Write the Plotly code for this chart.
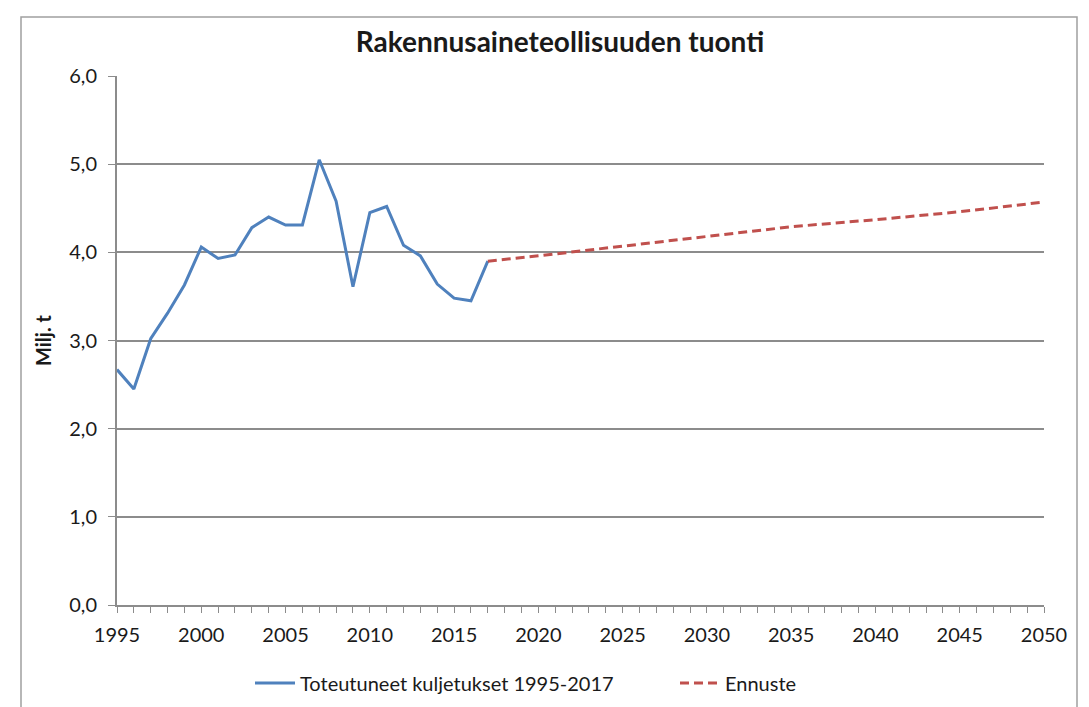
import plotly.graph_objects as go

title = "Rakennusaineteollisuuden tuonti"
y_title = "Milj. t"

actual_years = list(range(1995, 2018))
actual_values = [2.67, 2.45, 3.02, 3.31, 3.63, 4.06, 3.93, 3.97, 4.28, 4.40, 4.31,
                 4.31, 5.05, 4.58, 3.61, 4.45, 4.52, 4.08, 3.96, 3.64, 3.48, 3.45, 3.90]
actual_name = "Toteutuneet kuljetukset 1995-2017"

forecast_years = [2017, 2020, 2025, 2030, 2035, 2040, 2045, 2050]
forecast_values = [3.90, 3.96, 4.07, 4.18, 4.29, 4.37, 4.46, 4.57]
forecast_name = "Ennuste"

x_ticks = list(range(1995, 2051, 5))
y_ticks = [0, 1, 2, 3, 4, 5, 6]

FONT = "Lato, 'Open Sans', sans-serif"
GRID = "#8c8c8c"
TXT = "#1a1a1a"

fig = go.Figure()
fig.add_trace(go.Scatter(x=actual_years, y=actual_values, mode="lines", name=actual_name,
                         line=dict(color="#4F81BD", width=3), legend="legend"))
fig.add_trace(go.Scatter(x=forecast_years, y=forecast_values, mode="lines", name=forecast_name,
                         line=dict(color="#C0504D", width=3, dash="9px,5px"), legend="legend2"))

leg_common = dict(orientation="h", xanchor="left", y=-78/529, yanchor="middle",
                  font=dict(size=20, color=TXT), itemwidth=40, bgcolor="rgba(0,0,0,0)")

fig.update_layout(
    width=1089, height=707,
    margin=dict(l=109, r=53, t=68, b=110),
    paper_bgcolor="white", plot_bgcolor="white",
    separators=", ",
    font=dict(family=FONT, size=20, color=TXT),
    title=dict(text="<b>" + title + "</b>", x=552/1089, xanchor="center", y=1-34/707, yanchor="middle",
               font=dict(size=28, color=TXT)),
    showlegend=True,
    legend=dict(x=(250-117)/927, **leg_common),
    legend2=dict(x=(675-117)/927, **leg_common),
    xaxis=dict(range=[1995, 2050], tickvals=x_ticks, ticks="outside", ticklen=6, tickcolor=GRID,
               showline=True, linecolor=GRID, linewidth=2, showgrid=False, zeroline=False,
               ticklabelstandoff=5,
               minor=dict(ticks="outside", dtick=1, tick0=1995, ticklen=6, tickcolor=GRID, showgrid=False),
               tickfont=dict(size=20, color=TXT)),
    yaxis=dict(range=[0, 6], tickvals=y_ticks, tickformat=".1f", ticks="outside", ticklen=7,
               tickcolor=GRID, showline=True, linecolor=GRID, linewidth=2,
               showgrid=True, gridcolor=GRID, gridwidth=1.6, zeroline=False,
               ticklabelstandoff=7,
               tickfont=dict(size=20, color=TXT)),
)

fig.add_annotation(text="<b>" + y_title + "</b>", xref="paper", yref="paper",
                   x=(43-117)/927, y=(605-340)/529, xanchor="center", yanchor="middle",
                   textangle=-90, showarrow=False, font=dict(size=20, color=TXT))

fig.add_shape(type="rect", xref="paper", yref="paper",
              x0=-96/927, x1=1+33/927, y0=-125/529, y1=1+59/529,
              line=dict(color="#a0a0a0", width=1.5), fillcolor="rgba(0,0,0,0)", layer="below")

fig.write_html("out.html")
